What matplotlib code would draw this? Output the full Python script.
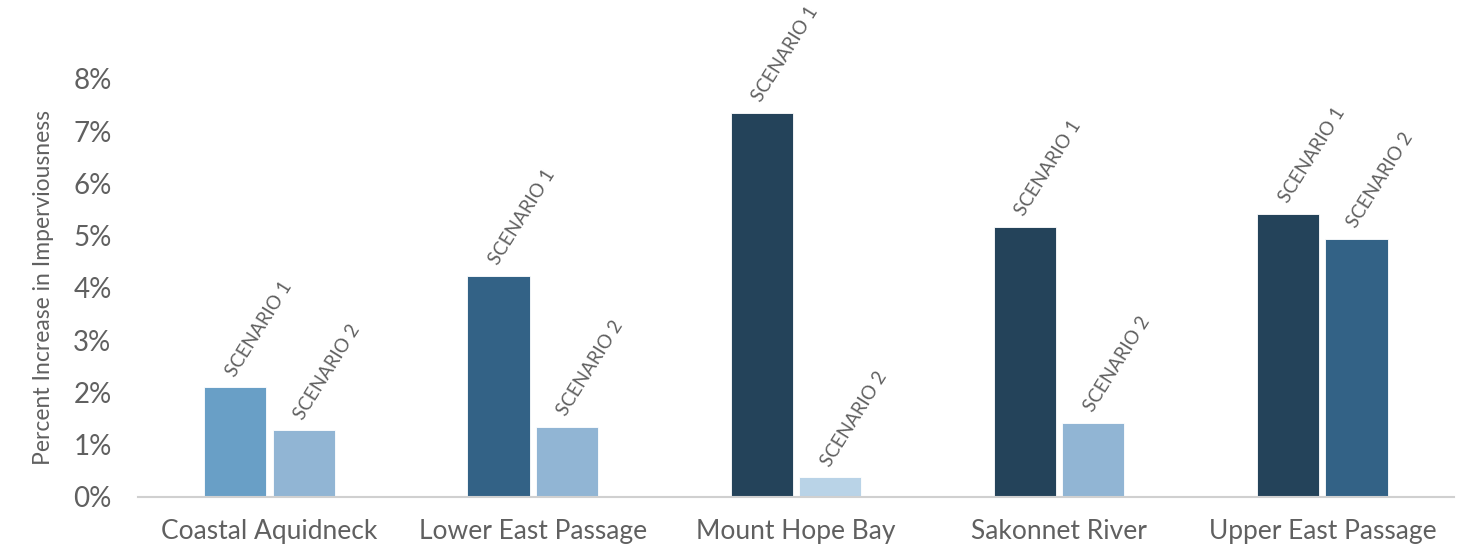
import numpy as np
from matplotlib import pyplot as plt

categories = ["Coastal Aquidneck", "Lower East Passage", "Mount Hope Bay",
              "Sakonnet River", "Upper East Passage"]
scenario_1 = [2.1, 4.23, 7.35, 5.17, 5.42]
scenario_2 = [1.28, 1.34, 0.38, 1.42, 4.94]
series_labels = ["SCENARIO 1", "SCENARIO 2"]
y_ticks = [0, 1, 2, 3, 4, 5, 6, 7, 8]


def shade(v):
    """Darker blue for a bigger increase."""
    if v >= 5:
        return "#24435a"
    if v >= 3:
        return "#336286"
    if v >= 2:
        return "#699fc6"
    if v >= 1:
        return "#91b5d4"
    return "#b9d3e7"


def main():
    plt.rcParams['font.family'] = ['Lato', 'DejaVu Sans']
    fig = plt.figure(figsize=(14.71, 5.5), dpi=100)
    ax = fig.add_axes([0.0938, 0.0964, 0.8946, 0.76])

    x = np.arange(len(categories))
    width = 0.236
    offset = 0.13
    grey = "#606060"

    for vals, sign, lab in [(scenario_1, -1, series_labels[0]),
                            (scenario_2, 1, series_labels[1])]:
        pos = x + sign * offset
        ax.bar(pos, vals, width, color=[shade(v) for v in vals],
               edgecolor="white", linewidth=0.6)
        for px, v in zip(pos, vals):
            ax.annotate(lab, (px, v), xytext=(2, 8),
                        textcoords="offset pixels", rotation=58,
                        rotation_mode="anchor", ha="left", va="bottom",
                        fontsize=13.5, color=grey, annotation_clip=False)

    ax.set_xlim(-0.5, 4.5)
    ax.set_ylim(0, 8)
    ax.set_yticks(y_ticks)
    ax.set_yticklabels([f"{t}%" for t in y_ticks], fontsize=20, color=grey)
    ax.set_xticks(x)
    ax.set_xticklabels(categories, fontsize=19, color=grey)
    ax.tick_params(length=0)
    ax.tick_params(axis="x", pad=16)
    ax.tick_params(axis="y", pad=19)
    ax.set_ylabel("Percent Increase in Imperviousness", fontsize=16.5,
                  color=grey, labelpad=14)
    for s in ["top", "right", "left"]:
        ax.spines[s].set_visible(False)
    ax.spines["bottom"].set_color("#d0d0d0")
    ax.spines["bottom"].set_linewidth(1.5)

    fig.savefig("out.png", dpi=100)


if __name__ == '__main__':
    main()
